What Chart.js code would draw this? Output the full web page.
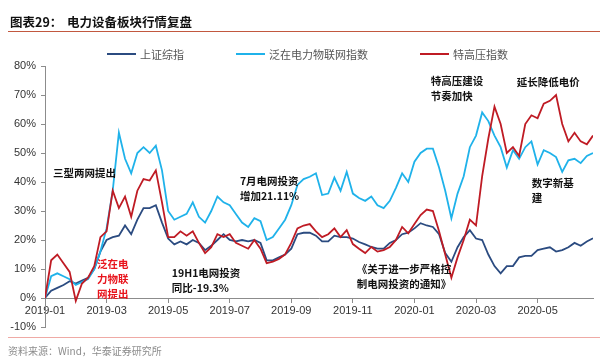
<!DOCTYPE html>
<html>
<head>
<meta charset="utf-8">
<script src="https://cdn.jsdelivr.net/npm/chart.js@4.4.0/dist/chart.umd.min.js"></script>
<style>
    html, body { margin: 0; padding: 0; background: #fff; }
    #wrap { position: relative; width: 600px; height: 359px; overflow: hidden; font-family: "Noto Sans CJK SC", sans-serif; }
    #chart { position: absolute; left: 0; top: 0; }
    .title { position: absolute; top: 12px; font-size: 12.5px; font-weight: bold; color: #111; white-space: nowrap; }
    .rule { position: absolute; left: 8px; right: 0; top: 31px; border-top: 1.5px solid #c2583f; }
    .legend { position: absolute; top: 46px; left: 107px; display: flex; align-items: center; font-size: 11px; color: #555; white-space: nowrap; }
    .legend .item { display: flex; align-items: center; margin-right: 52px; }
    .legend .swatch { width: 29px; height: 2px; margin-right: 4px; }
    .foot-rule { position: absolute; left: 8px; right: 0; top: 337px; border-top: 1.5px solid #efaaa5; }
    .source { position: absolute; left: 8px; top: 343px; font-size: 10px; color: #8c8c8c; white-space: nowrap; }
</style>
</head>
<body>
<div id="wrap">
    <canvas id="chart" width="600" height="359"></canvas>
    <div class="title" style="left:10px">图表29：</div>
    <div class="title" style="left:67px">电力设备板块行情复盘</div>
    <div class="rule"></div>
    <div class="legend" id="legend"></div>
    <div class="foot-rule"></div>
    <div class="source">资料来源：Wind，华泰证券研究所</div>
</div>
<script>
// ------------------------------------------------------------
// Data (cumulative return, %), one point every ~6 days from 2019-01
// ------------------------------------------------------------
const stepMonths = 0.2;
const xTickLabels = ['2019-01', '2019-03', '2019-05', '2019-07', '2019-09', '2019-11', '2020-01', '2020-03', '2020-05'];
const seriesNames = ['上证综指', '泛在电力物联网指数', '特高压指数'];

const shComposite = [
    0, 2.5, 3.5, 4.5, 5.8, 5, 6, 7, 10, 16,
    20, 21, 21.5, 25, 22, 27, 31, 31, 32, 26,
    20.5, 18.5, 19.5, 18.5, 20, 19, 16.5, 18, 20, 22,
    20, 19.5, 20, 19.5, 20, 19, 13, 13, 14, 15,
    17, 22, 22.5, 22.5, 21.5, 19.5, 19.5, 21.5, 21, 21,
    20.5, 19.3, 18.5, 17.6, 17, 17, 19, 20, 22, 22.5,
    24, 25.8, 25, 24.5, 22, 15.5, 12.5, 17.5, 21, 23.4,
    20.5, 20, 15, 11, 8.5, 11, 11, 14, 14.5, 14.5,
    16.5, 17, 17.5, 16, 16.5, 17.5, 19, 18, 19.5, 20.6
];
const iotIndex = [
    0, 7.5, 8.5, 7.5, 6.5, 4.5, 5.5, 6.5, 10, 16,
    24, 37, 57, 48, 43, 50, 52, 50, 52.5, 44,
    30, 27, 28, 29, 33, 28, 26, 30, 35, 33,
    32, 29, 26, 24.5, 27.5, 26.5, 20, 21, 24, 27,
    32, 39, 41, 41.8, 43, 35.5, 36, 41.5, 37, 43.5,
    36, 34.5, 33.5, 35, 32, 31, 33.5, 38, 43, 40,
    47, 50, 51.5, 51.5, 45, 37, 27.5, 36, 42, 52,
    56, 64, 61, 56, 52, 45, 51, 48, 52, 54,
    46, 51, 50, 48.6, 43.5, 47.5, 48, 46.5, 49, 50
];
const uhvIndex = [
    0, 13, 15, 12, 9, -1, 5, 7, 11, 21,
    23, 37, 31, 35, 28, 37, 41, 40.5, 44, 33,
    21, 21, 23, 21.5, 23, 19, 15.5, 17.5, 22, 21,
    22, 19, 18, 17, 20, 17, 12, 12.5, 13.5, 15,
    19, 24, 25, 25.5, 23, 21, 22, 24, 21, 23.4,
    18.6, 17, 15.5, 17.6, 16, 16.5, 17.6, 20, 24.5, 22.3,
    25.5, 28.6, 30.5, 30, 23, 15, 7, 14, 20, 27,
    25, 42, 55, 66, 60, 50, 52, 49, 60, 63,
    62, 67, 68, 70, 60, 54, 57, 54, 53, 56
];

const seriesColors = ['#2b4b80', '#1fb2ea', '#bf1b24'];

// Text notes, anchored in data units (month index, %)
const notes = [
    { lines: ['三型两网提出'], at: [0.26, 43], color: '#111' },
    { lines: ['泛在电', '力物联', '网提出'], at: [1.69, 11.6], color: '#e8141c' },
    { lines: ['19H1电网投资', '同比-19.3%'], at: [4.12, 8.5], color: '#111' },
    { lines: ['7月电网投资', '增加21.11%'], at: [6.33, 40.5], color: '#111' },
    { lines: ['《关于进一步严格控', '制电网投资的通知》'], at: [10.13, 9.9], color: '#111' },
    { lines: ['特高压建设', '节奏加快'], at: [12.53, 74.9], color: '#111' },
    { lines: ['延长降低电价'], at: [15.32, 74.4], color: '#111' },
    { lines: ['数字新基', '建'], at: [15.81, 39.6], color: '#111' }
];

const toPoints = (arr) => arr.map((v, i) => ({ x: i * stepMonths, y: v }));

const notesPlugin = {
    id: 'notes',
    afterDatasetsDraw(chart) {
        const { ctx, scales } = chart;
        ctx.save();
        ctx.font = 'bold 10.5px "Noto Sans CJK SC"';
        ctx.textBaseline = 'middle';
        ctx.textAlign = 'left';
        notes.forEach(n => {
            const x = scales.x.getPixelForValue(n.at[0]);
            const y = scales.y.getPixelForValue(n.at[1]);
            ctx.fillStyle = n.color;
            n.lines.forEach((line, k) => ctx.fillText(line, x, y + k * 15));
        });
        ctx.restore();
    }
};

const axisColor = '#8c8c8c';
const tickFont = { family: '"Liberation Sans", Arial, sans-serif', size: 11 };

const chart = new Chart(document.getElementById('chart'), {
    type: 'line',
    data: {
        datasets: [shComposite, iotIndex, uhvIndex].map((arr, k) => ({
            label: seriesNames[k],
            data: toPoints(arr),
            borderColor: seriesColors[k],
            borderWidth: 1.8,
            pointRadius: 0,
            tension: 0,
            fill: false,
            order: 3 - k
        }))
    },
    options: {
        responsive: false,
        animation: false,
        layout: { padding: { top: 66, bottom: 32, left: 0, right: 7 } },
        plugins: {
            legend: { display: false },
            tooltip: { enabled: false }
        },
        scales: {
            x: {
                type: 'linear',
                min: 0,
                max: (shComposite.length - 1) * stepMonths,
                position: { y: 0 },
                afterBuildTicks: (s) => { s.ticks = xTickLabels.map((_, k) => ({ value: k * 2 })); },
                ticks: {
                    autoSkip: false,
                    maxRotation: 0,
                    color: '#333',
                    font: tickFont,
                    padding: 2,
                    callback: (v) => xTickLabels[Math.round(v / 2)]
                },
                grid: { drawOnChartArea: false, drawTicks: true, tickLength: 4, color: axisColor },
                border: { color: axisColor, width: 1 }
            },
            y: {
                min: -10,
                max: 80,
                afterFit: (s) => { s.width = 45; },
                ticks: {
                    stepSize: 10,
                    color: '#333',
                    font: tickFont,
                    padding: 5,
                    callback: (v) => v + '%'
                },
                grid: { drawOnChartArea: false, drawTicks: true, tickLength: 4, color: axisColor },
                border: { color: axisColor, width: 1 }
            }
        }
    },
    plugins: [notesPlugin]
});

// HTML legend
const legend = document.getElementById('legend');
seriesNames.forEach((name, k) => {
    const item = document.createElement('div');
    item.className = 'item';
    item.innerHTML = '<span class="swatch" style="background:' + seriesColors[k] + '"></span><span>' + name + '</span>';
    legend.appendChild(item);
});
</script>
</body>
</html>
